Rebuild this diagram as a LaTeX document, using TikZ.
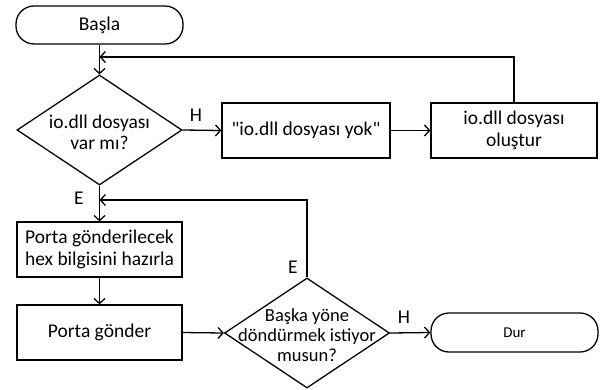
\documentclass[tikz,border=0pt]{standalone}
\usepackage{fontspec}
\setmainfont{Carlito}
\usetikzlibrary{shapes.geometric,arrows.meta}
\begin{document}
\begin{tikzpicture}[x=1pt,y=-1pt,line width=1.3pt,
  txt/.style={font=\fontsize{19.5}{22}\selectfont},
  box/.style={draw,rectangle,inner sep=0pt,align=center,txt},
  term/.style={draw,rectangle,rounded corners=18pt,inner sep=0pt,txt},
  dec/.style={draw,diamond,inner sep=0pt,minimum width=165pt,minimum height=110pt},
  arr/.style={-{Straight Barb[length=5pt,width=11pt,line width=1.3pt]}},
  lbl/.style={txt,inner sep=0pt}]
\useasboundingbox (0,0) rectangle (604,389);
\node[term,minimum width=167pt,minimum height=38pt] (basla) at (99.5,25) {Başla};
\node[dec] (d1) at (99.5,130) {};
\node[align=center,inner sep=0pt,font=\fontsize{19.5}{21}\selectfont] (d1t) at (99.5,132) {io.dll dosyası\\var mı?};
\node[box,minimum width=168pt,minimum height=55pt] (yok) at (306,130.5) {\textquotedbl io.dll dosyası yok\textquotedbl};
\node[box,minimum width=166pt,minimum height=55pt] (olus) at (514,130.5) {io.dll dosyası\\oluştur};
\node[box,minimum width=165pt,minimum height=55pt] (hex) at (99.5,249.5) {Porta gönderilecek\\hex bilgisini hazırla};
\node[box,minimum width=165pt,minimum height=55pt] (gonder) at (99.5,332.5) {Porta gönder};
\node[dec] (d2) at (307,333) {};
\node[align=center,inner sep=0pt,font=\fontsize{18.5}{20}\selectfont] (d2t) at (307,335) {Başka yöne\\döndürmek istiyor\\musun?};
\node[term,minimum width=167pt,minimum height=39pt,font=\fontsize{15}{17}\selectfont] (dur) at (514.5,332.5) {Dur};
\coordinate (j1) at (99.5,57);
\coordinate (j2) at (99.5,200);
\draw[arr] (basla.south) -- (d1.north);
\draw[arr] (olus.north) |- (j1);
\draw[arr] (d1.east) -- (yok.west);
\draw[arr] (yok.east) -- (olus.west);
\draw[arr] (d1.south) -- (hex.north);
\draw[arr] (d2.north) |- (j2);
\draw[arr] (hex.south) -- (gonder.north);
\draw[arr] (gonder.east) -- (d2.west);
\draw[arr] (d2.east) -- (dur.west);
\node[lbl] (h1) at (196,115) {H};
\node[lbl] (e1) at (79,198) {E};
\node[lbl] (e2) at (293,267) {E};
\node[lbl] (h2) at (404,317) {H};
\end{tikzpicture}
\end{document}
